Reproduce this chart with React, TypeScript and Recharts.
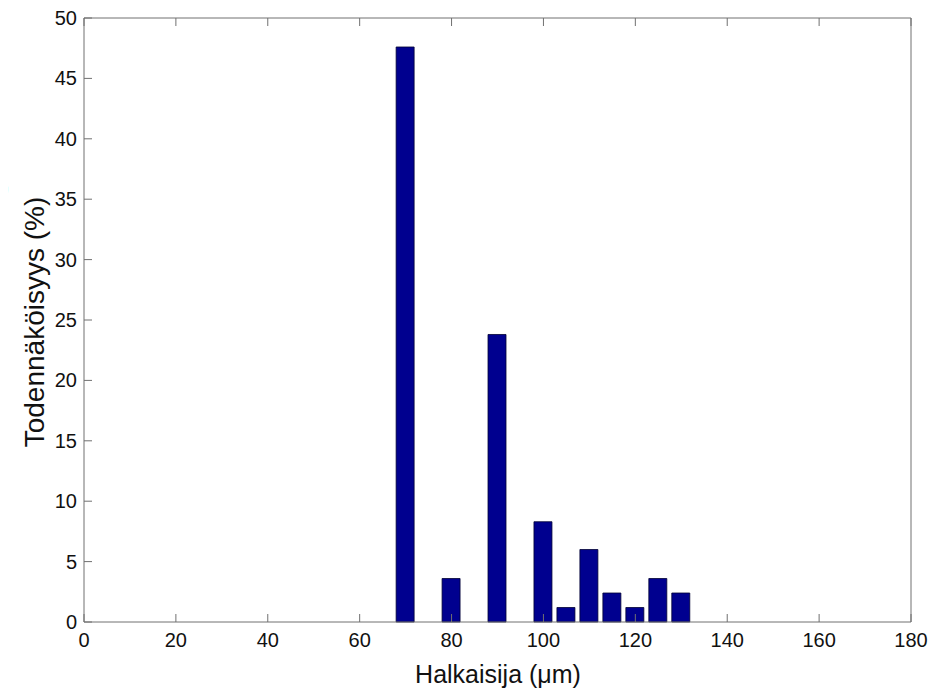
import React from "react";
import { ComposedChart, Bar, XAxis, YAxis } from "recharts";

const diameters = [70, 80, 90, 100, 105, 110, 115, 120, 125, 130];
const probabilities = [47.6, 3.6, 23.8, 8.3, 1.2, 6.0, 2.4, 1.2, 3.6, 2.4];
const xTicks = [0, 20, 40, 60, 80, 100, 120, 140, 160, 180];
const yTicks = [0, 5, 10, 15, 20, 25, 30, 35, 40, 45, 50];

const data = diameters.map((d, i) => ({ d, p: probabilities[i] }));

const AXIS = "#707070";
const FONT = "'Liberation Sans', Arial, Helvetica, sans-serif";
const TL = 8;

const BottomTick = (props: any) => {
  const { x, y, payload } = props;
  return (
    <g>
      <line x1={x} y1={y} x2={x} y2={y - TL} stroke={AXIS} strokeWidth={1} />
      <text x={x} y={y + 24.5} textAnchor="middle" fontSize={20} fill="#111" fontFamily={FONT}>
        {payload.value}
      </text>
    </g>
  );
};
const TopTick = (props: any) => {
  const { x, y } = props;
  return <line x1={x} y1={y} x2={x} y2={y + TL} stroke={AXIS} strokeWidth={1} />;
};
const LeftTick = (props: any) => {
  const { x, y, payload } = props;
  return (
    <g>
      <line x1={x} y1={y} x2={x + TL} y2={y} stroke={AXIS} strokeWidth={1} />
      <text x={x - 7} y={y + 7} textAnchor="end" fontSize={20} fill="#111" fontFamily={FONT}>
        {payload.value}
      </text>
    </g>
  );
};
const RightTick = (props: any) => {
  const { x, y } = props;
  return <line x1={x} y1={y} x2={x - TL} y2={y} stroke={AXIS} strokeWidth={1} />;
};

export default function App() {
  return (
    <div style={{ position: "relative", margin: "-8px 0 0 -8px", width: 941, height: 694, background: "#fff" }}>
      <ComposedChart
        width={941}
        height={694}
        data={data}
        margin={{ top: 17, right: 29, left: 0, bottom: 0 }}
      >
        <XAxis
          xAxisId="b"
          type="number"
          dataKey="d"
          domain={[0, 180]}
          ticks={xTicks}
          interval={0}
          height={72}
          tickSize={0}
          tickMargin={0}
          tickLine={false}
          axisLine={{ stroke: AXIS }}
          tick={<BottomTick />}
          allowDataOverflow
        />
        <XAxis
          xAxisId="t"
          orientation="top"
          type="number"
          dataKey="d"
          domain={[0, 180]}
          ticks={xTicks}
          interval={0}
          height={1}
          tickSize={0}
          tickMargin={0}
          tickLine={false}
          axisLine={{ stroke: AXIS }}
          tick={<TopTick />}
        />
        <YAxis
          yAxisId="l"
          type="number"
          domain={[0, 50]}
          ticks={yTicks}
          interval={0}
          width={84}
          tickSize={0}
          tickMargin={0}
          tickLine={false}
          axisLine={{ stroke: AXIS }}
          tick={<LeftTick />}
        />
        <YAxis
          yAxisId="r"
          orientation="right"
          type="number"
          domain={[0, 50]}
          ticks={yTicks}
          interval={0}
          width={1}
          tickSize={0}
          tickMargin={0}
          tickLine={false}
          axisLine={{ stroke: AXIS }}
          tick={<RightTick />}
        />
        <Bar
          xAxisId="b"
          yAxisId="l"
          dataKey="p"
          barSize={18}
          fill="#00008F"
          stroke="#000033"
          strokeWidth={0.8}
          isAnimationActive={false}
        />
        <text x={0} y={192} fontSize={36} fontWeight={700} fill="#000" fontFamily={FONT}>
          ,
        </text>
      </ComposedChart>
      <div
        style={{
          position: "absolute",
          left: 498,
          top: 660,
          transform: "translateX(-50%)",
          fontFamily: FONT,
          fontSize: 25,
          color: "#111",
          whiteSpace: "nowrap",
          lineHeight: "28px",
        }}
      >
        Halkaisija (μm)
      </div>
      <div
        style={{
          position: "absolute",
          left: 35,
          top: 322,
          transform: "translate(-50%, -50%) rotate(-90deg)",
          fontFamily: FONT,
          fontSize: 28,
          color: "#111",
          whiteSpace: "nowrap",
          lineHeight: "30px",
        }}
      >
        Todennäköisyys (%)
      </div>
    </div>
  );
}
